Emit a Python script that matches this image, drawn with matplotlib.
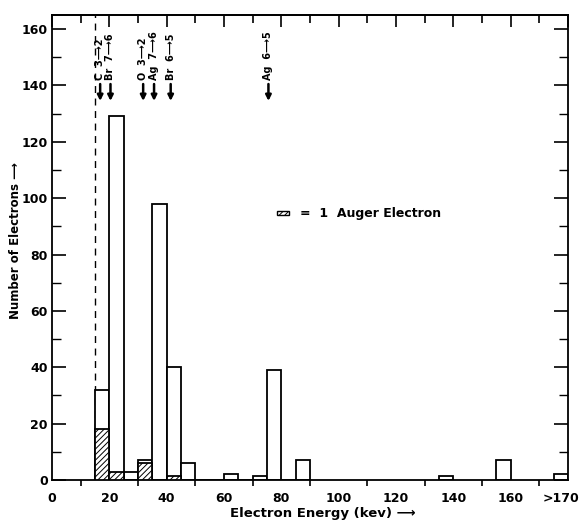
import matplotlib
matplotlib.use("Agg")
import matplotlib.pyplot as plt
from matplotlib.ticker import MultipleLocator, FixedLocator
from matplotlib.transforms import offset_copy

# ---- data ----
bin_width = 5
energy_bins = [15, 20, 25, 30, 35, 40, 45, 50, 55, 60, 65, 70, 75, 80, 85, 135, 155]
total_counts = [32, 129, 3, 7, 98, 40, 6, 0, 0, 2, 0, 1.5, 39, 0, 7, 1.5, 7]
overflow_bin = 175
overflow_count = 2
auger_bins = [15, 20, 30, 40]
auger_counts = [18, 3, 6, 1.5]
cutoff_energy = 15
line_labels = ["C  3\u27f62", "Br  7\u27f66", "O  3\u27f62", "Ag  7\u27f66", "Br  6\u27f65", "Ag  6\u27f65"]
line_energies = [16.8, 20.4, 31.8, 35.6, 41.4, 75.5]
x_tick_values = [0, 20, 40, 60, 80, 100, 120, 140, 160, 180]
x_tick_labels = ["0", "20", "40", "60", "80", "100", "120", "140", "160", ">170"]

plt.rcParams['font.family'] = ['DejaVu Sans']
plt.rcParams['font.weight'] = 'bold'
plt.rcParams['hatch.linewidth'] = 0.7

fig = plt.figure(figsize=(5.81, 5.20), dpi=100)
ax = fig.add_axes([52 / 581, 40 / 520, 516 / 581, 465 / 520])

ax.axvline(cutoff_energy, color='black', lw=1.0, ls=(0, (5, 4)), zorder=1)

ax.bar(energy_bins, total_counts, width=bin_width, align='edge',
       facecolor='white', edgecolor='black', lw=1.3, zorder=2)
ax.bar([overflow_bin], [overflow_count], width=bin_width, align='edge',
       facecolor='white', edgecolor='black', lw=1.3, zorder=2)
ax.bar(auger_bins, auger_counts, width=bin_width, align='edge',
       facecolor='white', edgecolor='black', hatch='//////', lw=1.3, zorder=3)

# legend-like key
ax.bar([78.5], [1.5], width=4.2, bottom=94, align='edge',
       facecolor='white', edgecolor='black', hatch='//////', lw=1.0, zorder=3)
ax.text(86.5, 94.6, "=  1  Auger Electron", fontsize=9, fontweight='bold',
        va='center', ha='left')

# transition markers
for lab, e in zip(line_labels, line_energies):
    ax.annotate('', xy=(e, 134.5), xytext=(e, 140.5),
                arrowprops=dict(arrowstyle='-|>', lw=1.8, color='black',
                                mutation_scale=8, shrinkA=0, shrinkB=0))
    ax.text(e, 142.0, lab, rotation=90, fontsize=7, fontweight='bold',
            ha='center', va='bottom')

ax.set_xlim(0, 180)
ax.set_ylim(0, 165)

# x axis
ax.xaxis.set_major_locator(FixedLocator(x_tick_values))
ax.set_xticklabels(x_tick_labels)
ax.xaxis.set_minor_locator(FixedLocator(list(range(10, 180, 20))))
ax.tick_params(axis='x', which='major', bottom=True, length=0, pad=8.5,
               labelsize=9)
ax.tick_params(axis='x', which='minor', bottom=True, direction='out', length=4,
               width=1.2)
for lab in ax.get_xticklabels():
    lab.set_fontweight('bold')
last = ax.get_xticklabels()[-1]
last.set_horizontalalignment('right')
last.set_transform(offset_copy(last.get_transform(), fig=fig, x=11, units='dots'))

top = ax.secondary_xaxis('top')
top.xaxis.set_major_locator(MultipleLocator(20))
top.xaxis.set_minor_locator(MultipleLocator(10))
top.tick_params(which='major', direction='in', length=8.5, width=1.2, labeltop=False)
top.tick_params(which='minor', direction='in', length=5.5, width=1.2)
top.spines['top'].set_linewidth(1.3)

# y axis
ax.yaxis.set_major_locator(MultipleLocator(20))
ax.yaxis.set_minor_locator(MultipleLocator(10))
ax.tick_params(axis='y', which='major', left=True, right=True, direction='in',
               length=10, width=1.2, pad=3, labelsize=9)
ax.tick_params(axis='y', which='minor', left=True, right=True, direction='in',
               length=6.5, width=1.0)
for lab in ax.get_yticklabels():
    lab.set_fontweight('bold')

for s in ax.spines.values():
    s.set_linewidth(1.3)

ax.set_ylabel("Number of Electrons \u27f6", fontsize=8.5, fontweight='bold')
ax.yaxis.set_label_coords(-0.058, 0.516)
ax.set_xlabel("Electron Energy (kev) \u27f6", fontsize=9.5, fontweight='bold')
ax.xaxis.set_label_coords(0.525, -0.058)

fig.savefig("out.png", dpi=100)
